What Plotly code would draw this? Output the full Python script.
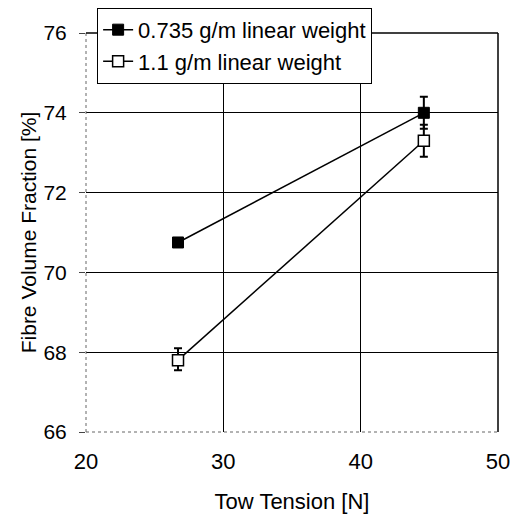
import plotly.graph_objects as go

tension = [26.7, 44.6]
vf_0735 = [70.75, 74.0]
err_0735 = [0.1, 0.4]
vf_11 = [67.8, 73.3]
err_11_plus = [0.3, 0.4]
err_11_minus = [0.25, 0.4]
names = ["0.735 g/m linear weight", "1.1 g/m linear weight"]

FONT = "Liberation Sans, Arial, sans-serif"

fig = go.Figure()
fig.add_trace(go.Scatter(
    x=tension, y=vf_11, name=names[1], mode="lines+markers",
    line=dict(color="black", width=1.5),
    marker=dict(symbol="square", size=11, color="white", line=dict(color="black", width=1.5)),
    error_y=dict(type="data", array=err_11_plus, arrayminus=err_11_minus, color="black", thickness=2, width=4),
))
fig.add_trace(go.Scatter(
    x=tension, y=vf_0735, name=names[0], mode="lines+markers",
    line=dict(color="black", width=1.5),
    marker=dict(symbol="square", size=11, color="black", line=dict(color="black", width=1)),
    error_y=dict(type="data", array=err_0735, color="black", thickness=2, width=4),
))

axis_common = dict(showline=False, zeroline=False, gridcolor="black", gridwidth=1.3, automargin=False)
fig.update_xaxes(range=[20, 50], tickvals=[20, 30, 40, 50], ticks="", ticklabelstandoff=14,
                 tickfont=dict(family=FONT, size=22, color="black"), **axis_common,
                 title=dict(text="Tow Tension [N]", font=dict(family=FONT, size=22, color="black"), standoff=20))
fig.update_yaxes(range=[66, 76], tickvals=[66, 68, 70, 72, 74, 76], ticks="outside", ticklen=6,
                 tickcolor="#444", ticklabelstandoff=8,
                 tickfont=dict(family=FONT, size=21, color="black"), **axis_common,
                 title=dict(text="Fibre Volume Fraction [%]", font=dict(family=FONT, size=21, color="black"), standoff=1))

shapes = [
    dict(type="line", xref="paper", yref="paper", x0=0, x1=0, y0=0, y1=1, line=dict(color="#666", width=1, dash="dot")),
    dict(type="line", xref="paper", yref="paper", x0=0, x1=1, y0=0, y1=0, line=dict(color="#666", width=1, dash="dot")),
    dict(type="line", xref="paper", yref="paper", x0=1, x1=1, y0=0, y1=1, line=dict(color="black", width=1.5)),
    dict(type="line", xref="paper", yref="paper", x0=0, x1=1, y0=1, y1=1, line=dict(color="black", width=1.5)),
]
fig.update_layout(
    width=511, height=517,
    margin=dict(l=86, r=13, t=33, b=85, autoexpand=False),
    plot_bgcolor="white", paper_bgcolor="white",
    shapes=shapes,
    legend=dict(x=0.027, y=1.063, xanchor="left", yanchor="top", traceorder="reversed",
                bgcolor="white", bordercolor="black", borderwidth=1,
                font=dict(family=FONT, size=22, color="black"),
                itemwidth=30, tracegroupgap=0),
    font=dict(family=FONT, color="black"),
)
fig.write_html("out.html")
